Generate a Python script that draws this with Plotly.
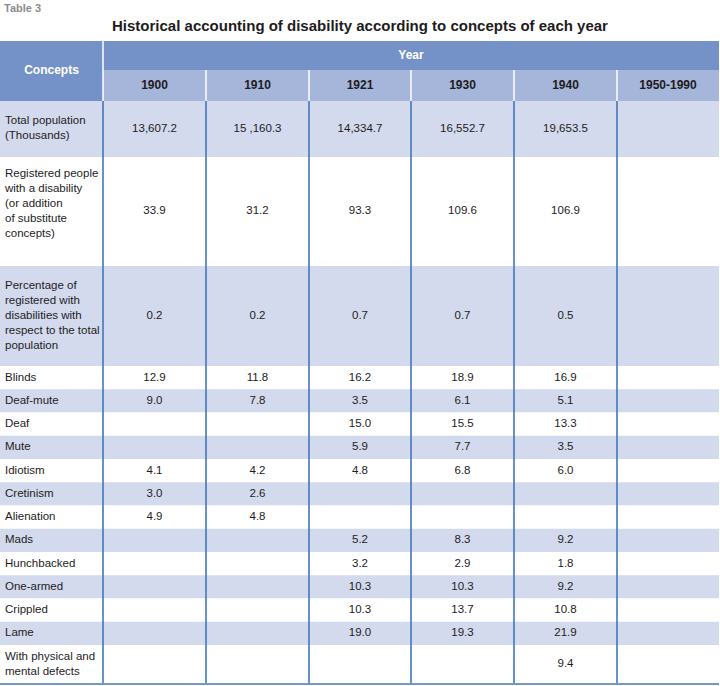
import plotly.graph_objects as go

# ---------------- data ----------------
concepts = [
    "Total population<br>(Thousands)",
    "Registered people<br>with a disability<br>(or addition<br>of substitute<br>concepts)<br> ",
    "Percentage of<br>registered with<br>disabilities with<br>respect to the total<br>population",
    "Blinds", "Deaf-mute", "Deaf", "Mute", "Idiotism", "Cretinism", "Alienation",
    "Mads", "Hunchbacked", "One-armed", "Crippled", "Lame",
    "With physical and<br>mental defects",
]
years = ["1900", "1910", "1921", "1930", "1940", "1950-1990"]

v1900 = ["13,607.2", "33.9", "0.2", "12.9", "9.0", "", "", "4.1", "3.0", "4.9", "", "", "", "", "", ""]
v1910 = ["15 ,160.3", "31.2", "0.2", "11.8", "7.8", "", "", "4.2", "2.6", "4.8", "", "", "", "", "", ""]
v1921 = ["14,334.7", "93.3", "0.7", "16.2", "3.5", "15.0", "5.9", "4.8", "", "", "5.2", "3.2", "10.3", "10.3", "19.0", ""]
v1930 = ["16,552.7", "109.6", "0.7", "18.9", "6.1", "15.5", "7.7", "6.8", "", "", "8.3", "2.9", "10.3", "13.7", "19.3", ""]
v1940 = ["19,653.5", "106.9", "0.5", "16.9", "5.1", "13.3", "3.5", "6.0", "", "", "9.2", "1.8", "9.2", "10.8", "21.9", "9.4"]
v1950 = [""] * 16
year_values = [v1900, v1910, v1921, v1930, v1940, v1950]

title_text = "Historical accounting of disability according to concepts of each year"
table_label = "Table 3"
header_concepts = "Concepts"
header_year = "Year"

# ---------------- layout / style ----------------
W, H = 720, 686
col_widths = [103, 103, 103, 102, 103, 103, 102]
header_top = 41
header_row1_h = 29
header_row2_h = 31
row_heights = [56, 109, 100] + [23.25] * 12 + [39]

FONT = "Liberation Sans, Arial, sans-serif"
BODY_SIZE = 11.5
DARK = "#7592C8"
LIGHT = "#A6B5DA"
SHADE = "#D3DAED"
TXT = "#1E1C1D"
VLINE = "#4177BC"
BOTTOM = "#7398CE"

# column edges
edges = [0]
for w in col_widths:
    edges.append(edges[-1] + w)
col_centers = [(edges[i] + edges[i + 1]) / 2 for i in range(len(col_widths))]
table_right = edges[-1]

# row positions
row1_top = header_top
row2_top = header_top + header_row1_h
body_top = row2_top + header_row2_h
tops = [body_top]
for h in row_heights:
    tops.append(tops[-1] + h)
body_bottom = tops[-1]
row_centers = [tops[i] + row_heights[i] / 2 for i in range(len(row_heights))]
row_colors = [SHADE if i % 2 == 0 else "white" for i in range(len(row_heights))]

fig = go.Figure()

# body row backgrounds
fig.add_trace(go.Bar(
    orientation="h", y=row_centers, x=[table_right] * len(row_centers),
    base=[0] * len(row_centers), width=row_heights,
    marker=dict(color=row_colors, line=dict(width=0)),
    hoverinfo="skip", showlegend=False,
))

# header backgrounds
hy, hx, hb, hw, hc = [], [], [], [], []
hy.append(row1_top + (header_row1_h + header_row2_h) / 2)
hx.append(col_widths[0]); hb.append(0); hw.append(header_row1_h + header_row2_h); hc.append(DARK)
hy.append(row1_top + header_row1_h / 2)
hx.append(table_right - edges[1]); hb.append(edges[1]); hw.append(header_row1_h); hc.append(DARK)
for i in range(len(years)):
    hy.append(row2_top + header_row2_h / 2)
    hx.append(col_widths[i + 1]); hb.append(edges[i + 1]); hw.append(header_row2_h); hc.append(LIGHT)
fig.add_trace(go.Bar(
    orientation="h", y=hy, x=hx, base=hb, width=hw,
    marker=dict(color=hc, line=dict(width=0)),
    hoverinfo="skip", showlegend=False,
))

# white separators in header
wx, wy = [edges[1], edges[1], None], [row1_top, body_top, None]
for e in edges[2:-1]:
    wx += [e, e, None]
    wy += [row2_top, body_top, None]
fig.add_trace(go.Scatter(x=wx, y=wy, mode="lines", line=dict(color="white", width=1.5),
                         hoverinfo="skip", showlegend=False))

# blue column separators in body
bx, by = [], []
for e in edges[1:-1]:
    bx += [e, e, None]
    by += [body_top, body_bottom, None]
fig.add_trace(go.Scatter(x=bx, y=by, mode="lines", line=dict(color=VLINE, width=1.6),
                         hoverinfo="skip", showlegend=False))

# bottom border
fig.add_trace(go.Scatter(x=[0, table_right], y=[body_bottom, body_bottom], mode="lines",
                         line=dict(color=BOTTOM, width=2), hoverinfo="skip", showlegend=False))

# header text
fig.add_trace(go.Scatter(
    x=[col_centers[0], (edges[1] + table_right) / 2],
    y=[row1_top + (header_row1_h + header_row2_h) / 2, row1_top + header_row1_h / 2],
    text=[f"<b>{header_concepts}</b>", f"<b>{header_year}</b>"],
    mode="text", textposition="middle center",
    textfont=dict(family=FONT, size=12, color="white"),
    hoverinfo="skip", showlegend=False,
))
fig.add_trace(go.Scatter(
    x=col_centers[1:], y=[row2_top + header_row2_h / 2] * len(years),
    text=[f"<b>{y}</b>" for y in years],
    mode="text", textposition="middle center",
    textfont=dict(family=FONT, size=12, color=TXT),
    hoverinfo="skip", showlegend=False,
))

# concept labels
fig.add_trace(go.Scatter(
    x=[5] * len(concepts), y=row_centers, text=concepts,
    mode="text", textposition="middle right",
    textfont=dict(family=FONT, size=BODY_SIZE, color=TXT),
    hoverinfo="skip", showlegend=False,
))

# values
for i, vals in enumerate(year_values):
    fig.add_trace(go.Scatter(
        x=[col_centers[i + 1]] * len(vals), y=row_centers, text=vals,
        mode="text", textposition="middle center",
        textfont=dict(family=FONT, size=BODY_SIZE, color=TXT),
        hoverinfo="skip", showlegend=False,
    ))

fig.update_layout(
    width=W, height=H,
    margin=dict(l=0, r=0, t=0, b=0),
    paper_bgcolor="white", plot_bgcolor="white",
    barmode="overlay",
    xaxis=dict(range=[0, W], visible=False, fixedrange=True),
    yaxis=dict(range=[H, 0], visible=False, fixedrange=True),
    title=dict(text=f"<b>{title_text}</b>", x=0.5, xanchor="center",
               y=1 - 26 / H, yanchor="middle", yref="container",
               font=dict(family=FONT, size=15, color=TXT)),
    annotations=[dict(text=f"<b>{table_label}</b>", x=2 / W, y=1 - 8 / H,
                      xref="paper", yref="paper", xanchor="left", yanchor="middle",
                      showarrow=False, font=dict(family=FONT, size=11, color="#8C8C8C"))],
)

fig.write_html("out.html", config={"displayModeBar": False},
               post_script="document.body.style.margin='0';")
